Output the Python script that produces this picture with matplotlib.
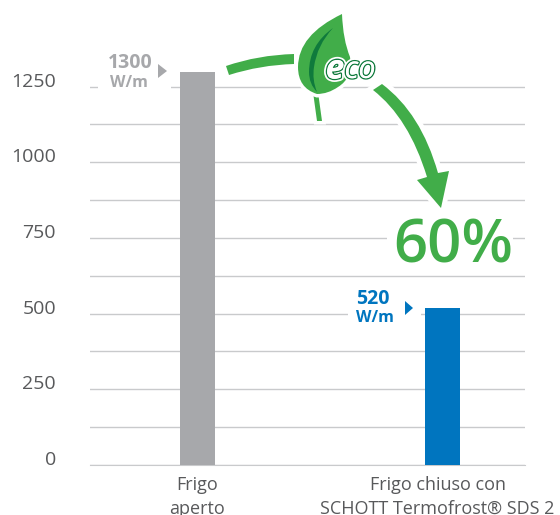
"""Heat loss bar chart, open fridge vs closed fridge."""
import matplotlib

matplotlib.use("Agg")
import matplotlib.patheffects as pe
import matplotlib.pyplot as plt
from matplotlib.patches import PathPatch, Polygon, Rectangle
from matplotlib.path import Path
from matplotlib.transforms import ScaledTranslation

categories = ["Frigo\naperto", "Frigo chiuso con\nSCHOTT Termofrost® SDS 2"]
values = [1300, 520]
bar_colors = ["#a7a8ab", "#0075bf"]
major_ticks = [0, 250, 500, 750, 1000, 1250]
minor_ticks = [125, 375, 625, 875, 1125]
unit = "W/m"
saving = "60%"

GREEN = "#41ad49"
DARK_GREEN = "#0f7a3c"
GRID = "#c9cacc"
TEXT = "#58595b"

plt.rcParams["font.family"] = ["Open Sans", "DejaVu Sans"]

W, H = 560, 515
fig = plt.figure(figsize=(W / 100, H / 100), dpi=100)
ax = fig.add_axes([90 / W, (H - 465) / H, 435 / W, 405 / H])
ax.set_xlim(-0.436, 1.336)
ax.set_ylim(0, 1338)
ax.bar([0, 1], values, width=0.1426, color=bar_colors, zorder=3)

ax.set_axisbelow(True)
ax.set_yticks(major_ticks)
ax.set_yticks(minor_ticks, minor=True)
ax.grid(axis="y", which="both", color=GRID, lw=1.0)
ax.tick_params(axis="both", which="both", length=0)
ax.tick_params(axis="y", pad=24.5, labelsize=14, labelcolor=TEXT)
for s in ["top", "left", "right"]:
    ax.spines[s].set_visible(False)
ax.spines["bottom"].set_color(GRID)

ax.set_xticks([0, 1], categories, fontsize=13, color=TEXT, linespacing=1.4)
ax.tick_params(axis="x", pad=8)
for lab in ax.get_yticklabels():
    lab.set_transform(lab.get_transform() + ScaledTranslation(0, 7 / 100, fig.dpi_scale_trans))
last = ax.get_xticklabels()[1]
last.set_transform(last.get_transform() + ScaledTranslation(-5 / 100, 0, fig.dpi_scale_trans))

# overlay in pixel coordinates for the callouts and the leaf
ov = fig.add_axes([0, 0, 1, 1], zorder=5)
ov.set_xlim(0, W)
ov.set_ylim(H, 0)
ov.axis("off")
ov.patch.set_alpha(0)

# gaps in the grid behind value labels and 60%
ov.add_patch(Rectangle((98, 80), 73, 12, color="white", lw=0))
ov.add_patch(Rectangle((348, 307), 73, 12, color="white", lw=0))
ov.add_patch(Rectangle((387, 230), 126, 14, color="white", lw=0))

ov.text(130, 63, str(values[0]), color=bar_colors[0], fontsize=14, fontweight="bold", ha="center", va="center")
ov.text(129, 83, unit, color=bar_colors[0], fontsize=11.5, fontweight="bold", ha="center", va="center")
ov.add_patch(Polygon([(158, 64), (167, 71), (158, 78)], color=bar_colors[0], lw=0))

ov.text(372.5, 299, str(values[1]), color=bar_colors[1], fontsize=14, fontweight="bold", ha="center", va="center")
ov.text(375, 318.5, unit, color=bar_colors[1], fontsize=11.5, fontweight="bold", ha="center", va="center")
ov.add_patch(Polygon([(405, 301), (413, 308), (405, 315)], color=bar_colors[1], lw=0))

ov.text(453.5, 247, saving, color=GREEN, fontsize=43, fontweight="semibold", ha="center", va="center")


def shape(verts, codes, color, halo=0.0):
    path = Path(verts, codes)
    if halo:
        ov.add_patch(PathPatch(path, fc="white", ec="white", lw=halo, joinstyle="miter"))
    ov.add_patch(PathPatch(path, fc=color, ec="none", lw=0))


M, L, C, Z = Path.MOVETO, Path.LINETO, Path.CURVE3, Path.CLOSEPOLY

# arrow from the grey bar to the leaf
shape(
    [(226, 66), (258, 55), (294, 54), (294, 64), (260, 65), (229, 75), (226, 66)],
    [M, C, C, L, C, C, Z],
    GREEN,
    halo=7,
)

# big arrow from the leaf down to 60%
shape(
    [
        (382, 84), (421, 113), (438, 173), (449, 171), (441, 208), (417, 180),
        (427, 177), (409, 118), (373, 90), (382, 84),
    ],
    [M, C, C, L, L, L, L, C, C, Z],
    GREEN,
    halo=7,
)

# leaf stem, blade and vein
shape([(313, 92), (317, 121), (322, 121), (318, 92), (313, 92)], [M, L, L, L, Z], GREEN, halo=5)
shape(
    [
        (342, 14), (343, 40), (350, 57), (353, 78), (338, 87), (328, 94), (317, 94),
        (298, 88), (298, 67), (298, 35), (342, 14),
    ],
    [M, C, C, C, C, C, C, C, C, C, C],
    GREEN,
    halo=5,
)
shape(
    [(333, 28), (309, 45), (309, 72), (309, 84), (317, 92), (312, 80), (314, 67), (317, 45), (333, 28)],
    [M, C, C, C, C, C, C, C, C],
    DARK_GREEN,
)

outline = [pe.withStroke(linewidth=4.5, foreground="white"), pe.withStroke(linewidth=2, foreground=DARK_GREEN), pe.Normal()]
ov.text(335, 70, "e", color="white", fontsize=24, style="italic", fontweight="bold", ha="center", va="center", path_effects=outline)
ov.text(360, 70, "co", color="white", fontsize=22, style="italic", ha="center", va="center", path_effects=outline)

fig.savefig("out.png", dpi=100)
